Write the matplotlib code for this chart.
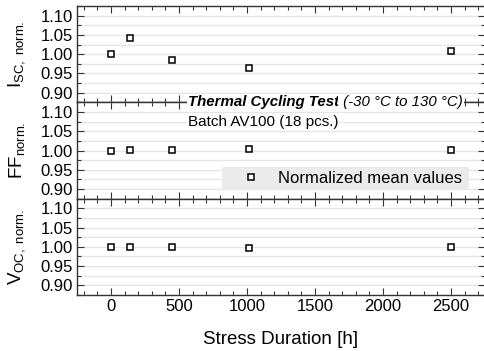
import numpy as np
import matplotlib
matplotlib.use('Agg')
import matplotlib.pyplot as plt
from matplotlib.ticker import MultipleLocator, FormatStrFormatter

plt.rcParams['font.family'] = ['Liberation Sans', 'DejaVu Sans']
plt.rcParams['mathtext.fontset'] = 'custom'
plt.rcParams['mathtext.rm'] = 'Liberation Sans'
plt.rcParams['mathtext.it'] = 'Liberation Sans:italic'

# horas de estres y valores normalizados (medias del lote)
horas = [0, 140, 445, 1015, 2500]
isc_norm = [1.000, 1.041, 0.985, 0.965, 1.009]
ff_norm = [0.999, 1.002, 1.002, 1.003, 1.002]
voc_norm = [1.000, 1.000, 1.000, 0.998, 1.000]

etiquetas = [r'$\mathregular{I_{SC,\ norm.}}$',
             r'$\mathregular{FF_{norm.}}$',
             r'$\mathregular{V_{OC,\ norm.}}$']
series = [isc_norm, ff_norm, voc_norm]

W, H = 484, 351
fig = plt.figure(figsize=(W / 100, H / 100), dpi=100)

left, right = 77 / W, 485 / W
top, bottom = 1 - 6 / H, 1 - 295 / H
alto = (top - bottom) / 3

axs = []
for i in range(3):
    ax = fig.add_axes([left, top - (i + 1) * alto, right - left, alto])
    axs.append(ax)
    ax.plot(horas, series[i], ls='none', marker='s', ms=5.0,
            mfc='white', mec='black', mew=1.1, zorder=3,
            label='Normalized mean values')
    ax.set_xlim(-250, 2750)
    ax.set_ylim(0.875, 1.125)
    ax.xaxis.set_major_locator(MultipleLocator(500))
    ax.xaxis.set_minor_locator(MultipleLocator(100))
    ax.yaxis.set_minor_locator(MultipleLocator(0.025))
    ax.set_yticks([0.90, 0.95, 1.00, 1.05, 1.10])
    ax.yaxis.set_major_formatter(FormatStrFormatter('%.2f'))
    ax.grid(True, which='both', axis='y', color='#e6e6e6', lw=1.0, zorder=0)
    ax.tick_params(which='both', direction='in', top=True, right=True,
                   labelsize=12, width=0.8, color='#333333', pad=3)
    ax.tick_params(which='major', length=5)
    ax.tick_params(which='minor', length=3)
    for s in ax.spines.values():
        s.set_color('#333333')
        s.set_linewidth(1.0)
    ax.set_ylabel(etiquetas[i], fontsize=13.5)
    ax.yaxis.set_label_coords(-0.122, 0.5)
    if i < 2:
        ax.tick_params(labelbottom=False)

axs[2].set_xlabel('Stress Duration [h]', fontsize=13.5, labelpad=12)

# titulo del ensayo sobre la separacion entre paneles
ax = axs[1]
fondo = dict(facecolor='white', edgecolor='none', pad=0.5)
t1 = ax.text(0.272, 1.0, 'Thermal Cycling Test', transform=ax.transAxes,
             fontsize=10.8, style='italic', weight='bold', va='center',
             ha='left', zorder=5, bbox=fondo)
ax.annotate(' (-30 °C to 130 °C)', xy=(1, 0.5), xycoords=t1,
            fontsize=10.8, style='italic', va='center', ha='left',
            zorder=5, bbox=fondo)
ax.text(0.272, 0.8, 'Batch AV100 (18 pcs.)', transform=ax.transAxes,
        fontsize=11, va='center', ha='left', zorder=5, bbox=fondo)

leg = ax.legend(loc='lower left', bbox_to_anchor=(0.355, 0.086, 0.606, 0.25),
                mode='expand', fontsize=12, frameon=True, fancybox=False,
                facecolor='#ebebeb', edgecolor='none', framealpha=1,
                borderaxespad=0, borderpad=0.25, handlelength=3.0,
                handletextpad=0.1)
leg.set_zorder(4)

fig.savefig('out.png', dpi=100)
